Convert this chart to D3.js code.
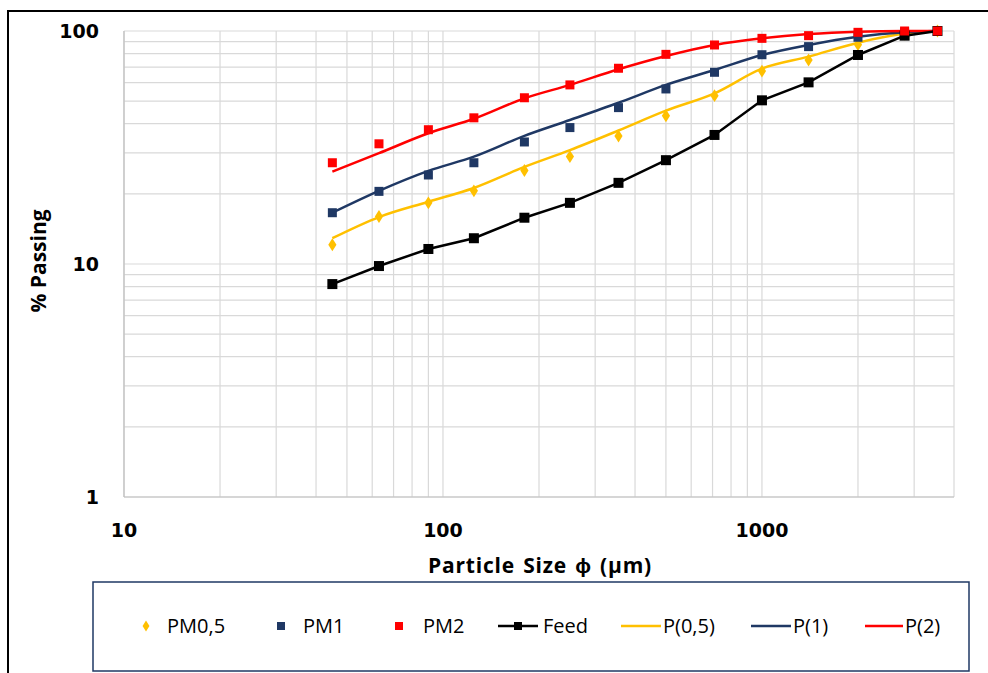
<!DOCTYPE html>
<html lang="en">
<head>
    <meta charset="UTF-8">
    <title>Particle Size Distribution</title>
    <style>
        body { margin: 0; background: #fff; }
        svg { display: block; }
        .tick-label { font-family: "DejaVu Sans", sans-serif; font-weight: bold; font-size: 19px; fill: #000; }
        .title { font-family: "Open Sans", sans-serif; font-weight: bold; font-size: 21px; fill: #000; }
        .legend-text { font-family: "Open Sans", sans-serif; font-size: 20px; fill: #000; }
    </style>
</head>
<body>
    <script src="https://d3js.org/d3.v7.min.js"></script>
    <script>
        const width = 988;
        const height = 673;

        // sieve sizes (um)
        const sizes = [45, 63, 90, 125, 180, 250, 355, 500, 710, 1000, 1400, 2000, 2800, 3550];

        // measured % passing
        const pm05 = [12.1, 16.0, 18.3, 20.6, 25.2, 28.9, 35.4, 43.3, 52.8, 67.3, 75.1, 87.4, 97.0, 100];
        const pm1 = [16.6, 20.5, 24.1, 27.2, 33.4, 38.5, 46.9, 56.4, 66.5, 79.1, 85.7, 94.0, 99.0, 100];
        const pm2 = [27.2, 32.8, 37.7, 42.4, 51.7, 58.7, 69.2, 79.4, 87.1, 93.0, 95.5, 98.7, 100, 100];
        const feed = [8.2, 9.8, 11.6, 12.9, 15.8, 18.3, 22.3, 27.9, 35.8, 50.4, 60.2, 78.9, 95.5, 100];

        // model curves
        const p05 = [12.9, 15.9, 18.5, 21.2, 26.1, 30.8, 37.4, 45.5, 54.0, 68.9, 77.6, 89.1, 97.5, 100];
        const p1 = [16.6, 20.6, 25.1, 28.9, 35.5, 41.5, 49.2, 58.7, 68.0, 78.9, 87.1, 94.5, 98.8, 100];
        const p2 = [24.9, 29.9, 36.4, 42.0, 51.4, 58.7, 68.5, 78.1, 87.1, 93.0, 97.0, 99.3, 100, 100];

        const xTicks = [10, 100, 1000];
        const yTicks = [1, 10, 100];

        const yellow = "#ffc000", navy = "#1f3864", red = "#ff0000";

        const svg = d3.select("body").append("svg")
            .attr("width", width)
            .attr("height", height);

        // outer frame (top and left edges visible)
        svg.append("path")
            .attr("d", `M8,${height} L8,11 L${width},11`)
            .attr("fill", "none")
            .attr("stroke", "#000")
            .attr("stroke-width", 2);

        const x = d3.scaleLog().domain([10, 4000]).range([124, 954]);
        const y = d3.scaleLog().domain([1, 100]).range([497, 31]);

        // grid
        const xGrid = [];
        for (let d = 10; d <= 1000; d *= 10) {
            for (let k = 1; k <= 9; k++) {
                if (d * k <= 4000) xGrid.push(d * k);
            }
        }
        const yGrid = [];
        for (let d = 1; d <= 10; d *= 10) {
            for (let k = 1; k <= 9; k++) yGrid.push(d * k);
        }
        yGrid.push(100);

        svg.append("g").selectAll("line")
            .data(xGrid)
            .enter().append("line")
            .attr("x1", d => x(d)).attr("x2", d => x(d))
            .attr("y1", y(1)).attr("y2", y(100))
            .attr("stroke", "#d9d9d9")
            .attr("stroke-width", 1.2);

        svg.append("g").selectAll("line")
            .data(yGrid)
            .enter().append("line")
            .attr("x1", x(10)).attr("x2", x(4000))
            .attr("y1", d => y(d)).attr("y2", d => y(d))
            .attr("stroke", "#d9d9d9")
            .attr("stroke-width", 1.2);

        // axis lines
        svg.append("line")
            .attr("x1", x(10)).attr("x2", x(10))
            .attr("y1", y(1)).attr("y2", y(100))
            .attr("stroke", "#bfbfbf").attr("stroke-width", 1.2);
        svg.append("line")
            .attr("x1", x(10)).attr("x2", x(4000))
            .attr("y1", y(1)).attr("y2", y(1))
            .attr("stroke", "#bfbfbf").attr("stroke-width", 1.2);

        // tick labels
        svg.append("g").selectAll("text")
            .data(yTicks)
            .enter().append("text")
            .attr("class", "tick-label")
            .attr("x", 99)
            .attr("y", d => y(d))
            .attr("dy", "0.36em")
            .attr("text-anchor", "end")
            .text(d => d);

        svg.append("g").selectAll("text")
            .data(xTicks)
            .enter().append("text")
            .attr("class", "tick-label")
            .attr("x", d => x(d))
            .attr("y", 530)
            .attr("dy", "0.36em")
            .attr("text-anchor", "middle")
            .text(d => d);

        // axis titles
        svg.append("text")
            .attr("class", "title")
            .attr("x", 540)
            .attr("y", 573)
            .attr("text-anchor", "middle")
            .attr("letter-spacing", "0.8px")
            .attr("word-spacing", "2px")
            .text("Particle Size \u03D5 (\u00B5m)");

        svg.append("text")
            .attr("class", "title")
            .attr("transform", "translate(46,261) rotate(-90)")
            .attr("text-anchor", "middle")
            .text("% Passing");

        // series
        const pts = vals => sizes.map((s, i) => [s, vals[i]]);
        const smooth = d3.line().x(d => x(d[0])).y(d => y(d[1])).curve(d3.curveMonotoneX);
        const straight = d3.line().x(d => x(d[0])).y(d => y(d[1]));

        [[p05, yellow], [p1, navy], [p2, red]].forEach(([vals, c]) => {
            svg.append("path")
                .datum(pts(vals))
                .attr("d", smooth)
                .attr("fill", "none")
                .attr("stroke", c)
                .attr("stroke-width", 2.5);
        });

        const diamond = d3.symbol().type(d3.symbolDiamond).size(48);

        svg.append("g").selectAll("path")
            .data(pts(pm05))
            .enter().append("path")
            .attr("d", diamond)
            .attr("transform", d => `translate(${x(d[0])},${y(d[1])}) scale(1.1,1)`)
            .attr("fill", yellow);

        const squares = (vals, c, s) => {
            svg.append("g").selectAll("rect")
                .data(pts(vals))
                .enter().append("rect")
                .attr("x", d => x(d[0]) - s / 2)
                .attr("y", d => y(d[1]) - s / 2)
                .attr("width", s)
                .attr("height", s)
                .attr("fill", c);
        };

        squares(pm1, navy, 9);

        svg.append("path")
            .datum(pts(feed))
            .attr("d", straight)
            .attr("fill", "none")
            .attr("stroke", "#000")
            .attr("stroke-width", 2.5);
        squares(feed, "#000", 10);

        squares(pm2, red, 9);

        // legend
        svg.append("rect")
            .attr("x", 93).attr("y", 582)
            .attr("width", 876).attr("height", 89)
            .attr("fill", "#fff")
            .attr("stroke", navy)
            .attr("stroke-width", 1.5);

        const ly = 626;
        const legend = [
            { label: "PM0,5", type: "diamond", color: yellow, mx: 146, tx: 167 },
            { label: "PM1", type: "square", color: navy, mx: 281, tx: 303 },
            { label: "PM2", type: "square", color: red, mx: 399, tx: 423 },
            { label: "Feed", type: "lineSquare", color: "#000", mx: 498, len: 40, tx: 543 },
            { label: "P(0,5)", type: "line", color: yellow, mx: 621, len: 40, tx: 663 },
            { label: "P(1)", type: "line", color: navy, mx: 751, len: 40, tx: 793 },
            { label: "P(2)", type: "line", color: red, mx: 865, len: 38, tx: 905 }
        ];

        legend.forEach(d => {
            if (d.type === "diamond") {
                svg.append("path")
                    .attr("d", d3.symbol().type(d3.symbolDiamond).size(34))
                    .attr("transform", `translate(${d.mx},${ly}) scale(1.1,1)`)
                    .attr("fill", d.color);
            } else if (d.type === "square") {
                svg.append("rect")
                    .attr("x", d.mx - 4).attr("y", ly - 4)
                    .attr("width", 8).attr("height", 8)
                    .attr("fill", d.color);
            } else {
                svg.append("line")
                    .attr("x1", d.mx).attr("x2", d.mx + d.len)
                    .attr("y1", ly).attr("y2", ly)
                    .attr("stroke", d.color)
                    .attr("stroke-width", 2.5);
                if (d.type === "lineSquare") {
                    svg.append("rect")
                        .attr("x", d.mx + d.len / 2 - 4).attr("y", ly - 4)
                        .attr("width", 8).attr("height", 8)
                        .attr("fill", d.color);
                }
            }
            svg.append("text")
                .attr("class", "legend-text")
                .attr("x", d.tx)
                .attr("y", ly)
                .attr("dy", "0.35em")
                .text(d.label);
        });
    </script>
</body>
</html>
